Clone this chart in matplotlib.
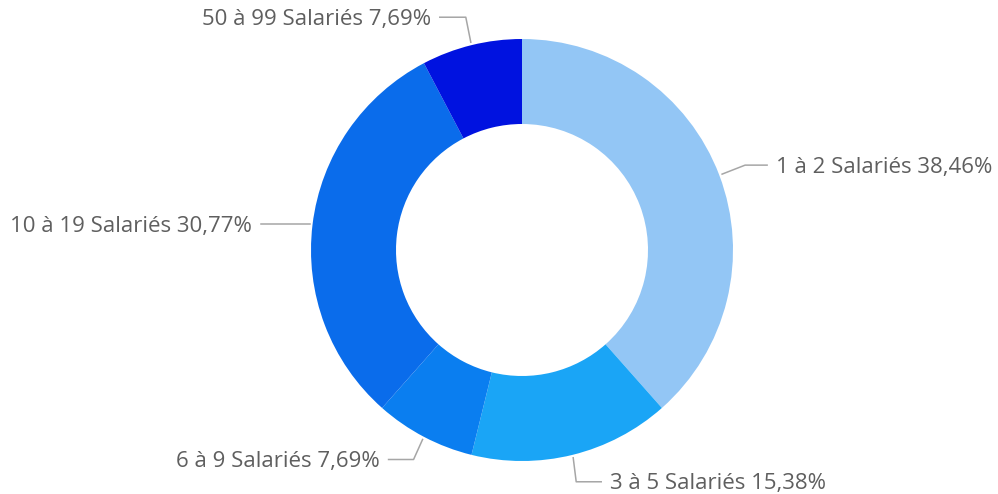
import matplotlib.pyplot as plt
import numpy as np

# data
categories = ['1 à 2 Salariés', '3 à 5 Salariés', '6 à 9 Salariés', '10 à 19 Salariés', '50 à 99 Salariés']
shares = [38.46, 15.38, 7.69, 30.77, 7.69]
pct_labels = ['38,46%', '15,38%', '7,69%', '30,77%', '7,69%']
colors = ['#93c6f5', '#1aa5f6', '#0a7ef0', '#0a6ceb', '#0012e0']

# leader line layout per label (elbow offset from anchor, horizontal run), pixels
elbow = [(23, 9), (3, -24), (-9, -20), (-5, 0), (-5, 25)]
run = [22, 25, -25, -44, -26]
gap = 9

W, H = 998, 494
fig = plt.figure(figsize=(W / 100, H / 100), dpi=100)
ax = fig.add_axes([0, 0, 1, 1])

cx, cy, R = 522, 244, 211
wedges, _ = ax.pie(shares, colors=colors, startangle=90, counterclock=False,
                   radius=R, center=(cx, cy), frame=True,
                   wedgeprops=dict(width=85, linewidth=0))
ax.set_xlim(0, W)
ax.set_ylim(0, H)
ax.set_aspect('equal')
ax.axis('off')

for w, cat, pl, (ex, ey), r in zip(wedges, categories, pct_labels, elbow, run):
    ang = np.deg2rad((w.theta1 + w.theta2) / 2)
    ax0 = cx + (R + 3) * np.cos(ang)
    ay0 = cy + (R + 3) * np.sin(ang)
    x1, y1 = ax0 + ex, ay0 + ey
    x2 = x1 + r
    ax.plot([ax0, x1, x2], [ay0, y1, y1], color='#a6a6a6', lw=1.1)
    ha = 'left' if r > 0 else 'right'
    tx = x2 + gap if r > 0 else x2 - gap
    ax.text(tx, y1 - 2, f'{cat} {pl}', ha=ha, va='center', fontsize=16,
            color='#5f5f5f', family=['Open Sans', 'DejaVu Sans'])

fig.savefig('out.png', dpi=100)
